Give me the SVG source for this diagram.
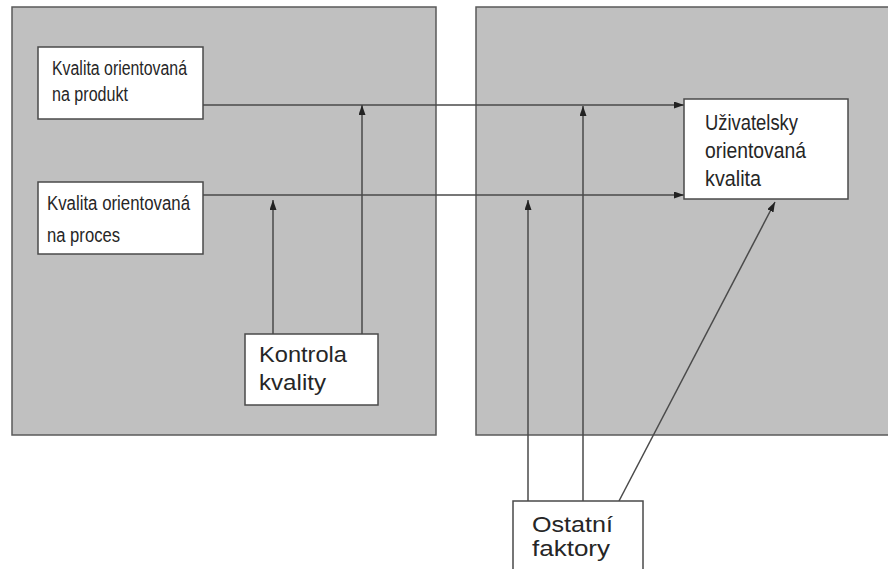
<svg xmlns="http://www.w3.org/2000/svg" width="888" height="569" viewBox="0 0 888 569">
<style>
.panel{fill:#c0c0c0;stroke:#5a5a5a;stroke-width:1.5}
.box{fill:#fff;stroke:#4a4a4a;stroke-width:1.5}
.t{font-family:"Liberation Sans",Arial,sans-serif;fill:#262626}
.s{font-size:20px}
.l{font-size:22px}
.c{stroke:#4a4a4a;stroke-width:1.5;fill:none}
</style>
<defs>
<marker id="ah" markerUnits="userSpaceOnUse" markerWidth="10" markerHeight="8" refX="10" refY="3.5" orient="auto">
<path d="M0,0 L10,3.5 L0,7 z" fill="#222"/>
</marker>
</defs>
<rect width="888" height="569" fill="#fff"/>
<g id="panel-left"><rect class="panel" x="12" y="7" width="424" height="428"/></g>
<g id="panel-right"><rect class="panel" x="476" y="7" width="420" height="428"/></g>
<g id="connectors">
<line class="c" x1="203" y1="105" x2="684" y2="105" marker-end="url(#ah)"/>
<line class="c" x1="203" y1="195" x2="684" y2="195" marker-end="url(#ah)"/>
<line class="c" x1="362" y1="334" x2="362" y2="105" marker-end="url(#ah)"/>
<line class="c" x1="273" y1="334" x2="273" y2="200" marker-end="url(#ah)"/>
<line class="c" x1="528" y1="501" x2="528" y2="200" marker-end="url(#ah)"/>
<line class="c" x1="583" y1="501" x2="583" y2="106" marker-end="url(#ah)"/>
<line class="c" x1="619" y1="501" x2="775" y2="202" marker-end="url(#ah)"/>
</g>
<g id="produkt">
<rect class="box" x="38" y="47" width="165" height="72"/>
<text class="t s" x="52" y="75" textLength="135" lengthAdjust="spacingAndGlyphs">Kvalita orientovaná</text>
<text class="t s" x="52" y="101" textLength="76" lengthAdjust="spacingAndGlyphs">na produkt</text>
</g>
<g id="proces">
<rect class="box" x="38" y="182" width="165" height="72"/>
<text class="t s" x="47" y="210" textLength="143" lengthAdjust="spacingAndGlyphs">Kvalita orientovaná</text>
<text class="t s" x="47" y="242" textLength="73" lengthAdjust="spacingAndGlyphs">na proces</text>
</g>
<g id="uzivatelsky">
<rect class="box" x="684" y="99" width="164" height="100"/>
<text class="t l" x="705" y="130" textLength="93" lengthAdjust="spacingAndGlyphs">Uživatelsky</text>
<text class="t l" x="705" y="158" textLength="101" lengthAdjust="spacingAndGlyphs">orientovaná</text>
<text class="t l" x="705" y="186" textLength="56" lengthAdjust="spacingAndGlyphs">kvalita</text>
</g>
<g id="kontrola">
<rect class="box" x="245" y="334" width="133" height="71"/>
<text class="t l" x="259" y="362" textLength="88" lengthAdjust="spacingAndGlyphs">Kontrola</text>
<text class="t l" x="259" y="390" textLength="67" lengthAdjust="spacingAndGlyphs">kvality</text>
</g>
<g id="ostatni">
<rect class="box" x="513" y="501" width="130" height="80"/>
<text class="t l" x="532" y="532" textLength="81" lengthAdjust="spacingAndGlyphs">Ostatní</text>
<text class="t l" x="532" y="556" textLength="78" lengthAdjust="spacingAndGlyphs">faktory</text>
</g>
</svg>
